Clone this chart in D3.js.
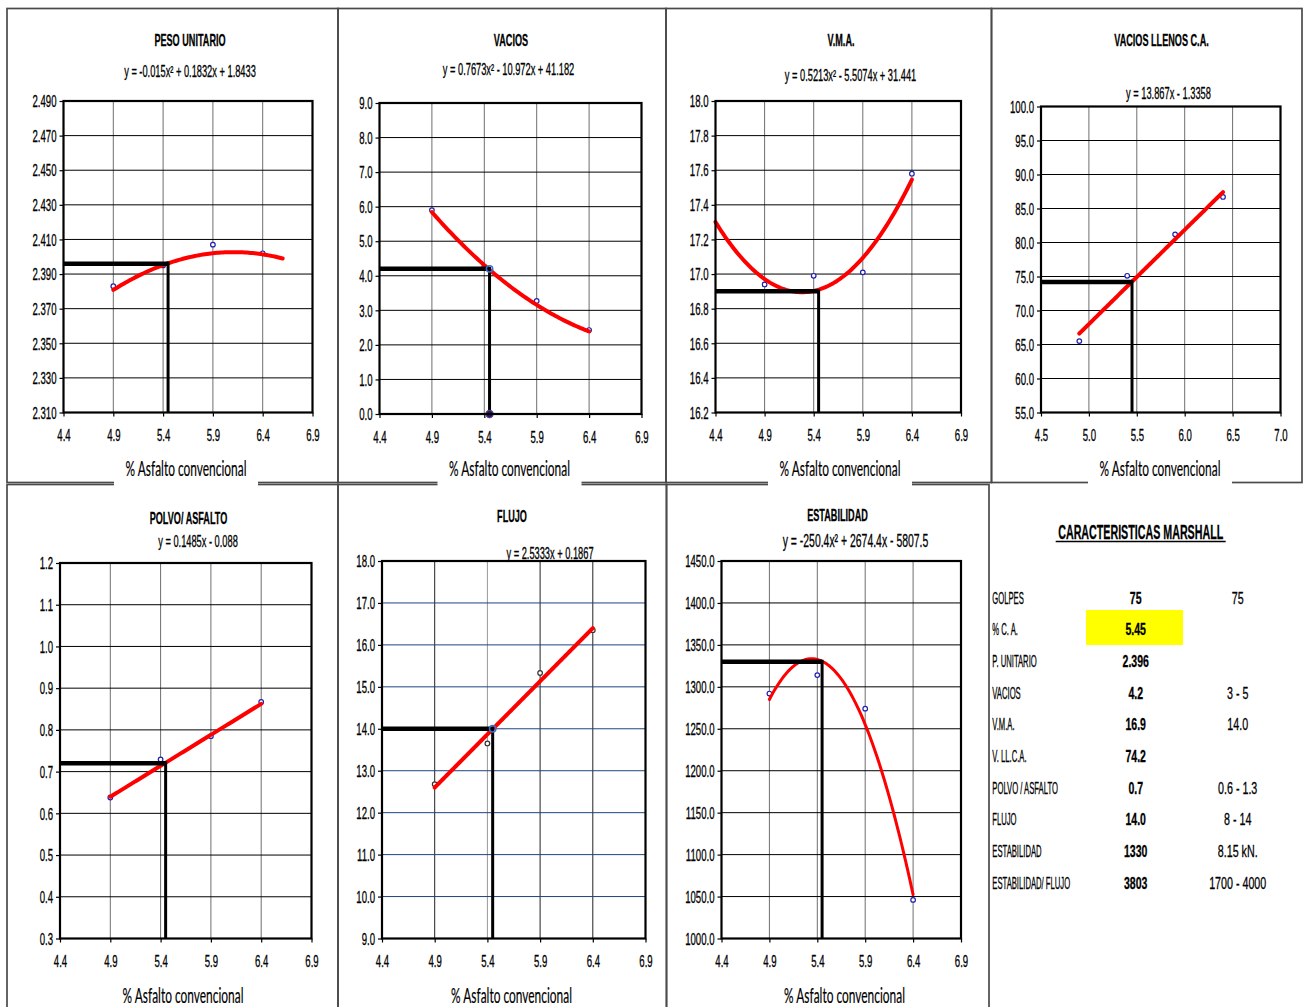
<!DOCTYPE html>
<html>
<head>
<meta charset="utf-8">
<script src="https://cdn.jsdelivr.net/npm/d3@7"></script>
<style>
  html, body { margin: 0; padding: 0; background: #fff; }
  svg { display: block; }
  svg text { stroke: #000; stroke-width: 0.3px; }
</style>
</head>
<body>
<svg id="chart" width="1306" height="1007"></svg>
<script>
// ---- Marshall test results: asphalt content vs. measured properties ----
const asphaltPct = [4.9, 5.4, 5.9, 6.4];

const pesoUnitario = [2.383, 2.395, 2.407, 2.402];
const vacios = [5.90, 4.26, 3.27, 2.43];
const vma = [16.94, 16.99, 17.01, 17.58];
const vaciosLlenos = [65.5, 75.1, 81.2, 86.7];
const polvoAsfalto = [0.638, 0.729, 0.785, 0.867];
const flujo = [12.68, 13.65, 15.33, 16.35];
const estabilidad = [1292, 1314, 1274, 1046];

// Trend-line coefficients (highest power first)
const fitPeso = [-0.015, 0.1832, 1.8433];
const fitVacios = [0.7673, -10.972, 41.182];
const fitVma = [0.5213, -5.5074, 31.441];
const fitLlenos = [13.867, -1.3358];
const fitPolvo = [0.1485, -0.088];
const fitFlujo = [2.5333, 0.1867];
const fitEstab = [-250.4, 2674.4, -5807.5];

const equations = [
  "y = -0.015x² + 0.1832x + 1.8433",
  "y = 0.7673x² - 10.972x + 41.182",
  "y = 0.5213x² - 5.5074x + 31.441",
  "y = 13.867x - 1.3358",
  "y = 0.1485x - 0.088",
  "y = 2.5333x + 0.1867",
  "y = -250.4x² + 2674.4x - 5807.5"
];
const titles = ["PESO UNITARIO", "VACIOS", "V.M.A.", "VACIOS LLENOS C.A.", "POLVO/ ASFALTO", "FLUJO", "ESTABILIDAD"];

// Optimum asphalt content and the properties read at it
const optimumAC = 5.45;
const designValues = [2.396, 4.2, 16.9, 74.2, 0.72, 14.0, 1330];

// Tick values
const xTicksA = [4.4, 4.9, 5.4, 5.9, 6.4, 6.9];
const xTicksB = [4.5, 5.0, 5.5, 6.0, 6.5, 7.0];
const yTicksPeso = [2.310, 2.330, 2.350, 2.370, 2.390, 2.410, 2.430, 2.450, 2.470, 2.490];
const yTicksVacios = [0, 1, 2, 3, 4, 5, 6, 7, 8, 9];
const yTicksVma = [16.2, 16.4, 16.6, 16.8, 17.0, 17.2, 17.4, 17.6, 17.8, 18.0];
const yTicksLlenos = [55, 60, 65, 70, 75, 80, 85, 90, 95, 100];
const yTicksPolvo = [0.3, 0.4, 0.5, 0.6, 0.7, 0.8, 0.9, 1.0, 1.1, 1.2];
const yTicksFlujo = [9, 10, 11, 12, 13, 14, 15, 16, 17, 18];
const yTicksEstab = [1000, 1050, 1100, 1150, 1200, 1250, 1300, 1350, 1400, 1450];

const xAxisTitle = "% Asfalto convencional";

// Summary table
const tableTitle = "CARACTERISTICAS MARSHALL";
const tableLabels = ["GOLPES", "% C. A.", "P. UNITARIO", "VACIOS", "V.M.A.", "V. LL.C.A.", "POLVO / ASFALTO", "FLUJO", "ESTABILIDAD", "ESTABILIDAD/ FLUJO"];
const tableValues = ["75", "5.45", "2.396", "4.2", "16.9", "74.2", "0.7", "14.0", "1330", "3803"];
const tableSpecs = ["75", "", "", "3 - 5", "14.0", "", "0.6 - 1.3", "8 - 14", "8.15 kN.", "1700 - 4000"];

// ---- layout ----
const panels = [
  { title: titles[0], eq: equations[0], ys: pesoUnitario, coef: fitPeso, design: designValues[0],
    box: { l: 63.5, t: 101, r: 312.5, b: 412.5 }, xTicks: xTicksA, yTicks: yTicksPeso, yFmt: ".3f",
    fitRange: [4.9, 6.6], titleXY: [190, 46], eqXY: [190, 76.5], eqSize: 16, axisTitleXY: [186, 476], row: 0 },
  { title: titles[1], eq: equations[1], ys: vacios, coef: fitVacios, design: designValues[1],
    box: { l: 379.5, t: 103, r: 641.5, b: 414 }, xTicks: xTicksA, yTicks: yTicksVacios, yFmt: ".1f",
    fitRange: [4.9, 6.4], titleXY: [511, 46], eqXY: [508.5, 75], eqSize: 16, axisTitleXY: [509.5, 476], row: 0,
    designMarks: true },
  { title: titles[2], eq: equations[2], ys: vma, coef: fitVma, design: designValues[2],
    box: { l: 715.5, t: 101, r: 961, b: 412.5 }, xTicks: xTicksA, yTicks: yTicksVma, yFmt: ".1f",
    fitRange: [4.4, 6.4], titleXY: [841, 46], eqXY: [850.5, 81], eqSize: 16, axisTitleXY: [840, 476], row: 0 },
  { title: titles[3], eq: equations[3], ys: vaciosLlenos, coef: fitLlenos, design: designValues[3],
    box: { l: 1041, t: 106.5, r: 1280.5, b: 412.5 }, xTicks: xTicksB, yTicks: yTicksLlenos, yFmt: ".1f",
    fitRange: [4.9, 6.4], titleXY: [1161.5, 46], eqXY: [1168.5, 99], eqSize: 16, axisTitleXY: [1160, 476], row: 0 },
  { title: titles[4], eq: equations[4], ys: polvoAsfalto, coef: fitPolvo, design: designValues[4],
    box: { l: 60, t: 563, r: 311.5, b: 938.5 }, xTicks: xTicksA, yTicks: yTicksPolvo, yFmt: ".1f",
    fitRange: [4.9, 6.4], titleXY: [188.5, 524], eqXY: [198, 547], eqSize: 16, axisTitleXY: [183, 1003], row: 1 },
  { title: titles[5], eq: equations[5], ys: flujo, coef: fitFlujo, design: designValues[5],
    box: { l: 382, t: 561, r: 645.5, b: 938.5 }, xTicks: xTicksA, yTicks: yTicksFlujo, yFmt: ".1f",
    fitRange: [4.9, 6.4], titleXY: [512, 522], eqXY: [550, 558.5], eqSize: 16, axisTitleXY: [511.5, 1003], row: 1,
    hGridColor: "#1f437f", markerColor: "#333", designMarks: true },
  { title: titles[6], eq: equations[6], ys: estabilidad, coef: fitEstab, design: designValues[6],
    box: { l: 721.5, t: 561, r: 961, b: 938.5 }, xTicks: xTicksA, yTicks: yTicksEstab, yFmt: ".1f",
    fitRange: [4.9, 6.4], titleXY: [837.5, 521], eqXY: [855.5, 547], eqSize: 18, axisTitleXY: [844.5, 1003], row: 1,
    curveWidth: 3 }
];

const SANS = "'Liberation Sans', Arial, sans-serif";
const svg = d3.select("#chart");

// Condensed text helper: horizontal squeeze applied around the anchor point
function label(parent, x, y, s, o = {}) {
  const g = parent.append("g").attr("transform", `translate(${x},${y}) scale(${o.sx || 0.6},1)`);
  return g.append("text")
    .attr("text-anchor", o.anchor || "middle")
    .attr("fill", o.fill || "#000")
    .style("font-family", o.family || SANS)
    .style("font-size", (o.size || 16) + "px")
    .style("font-weight", o.weight || "normal")
    .text(s);
}

// Text squeezed to a given overall width
function fitLabel(parent, x, y, s, width, o = {}) {
  const g = parent.append("g");
  const t = g.append("text")
    .attr("text-anchor", "middle")
    .attr("fill", "#000")
    .style("font-family", o.family || SANS)
    .style("font-size", (o.size || 16) + "px")
    .style("stroke-width", "0.2px")
    .text(s);
  const w = t.node().getComputedTextLength() || width;
  g.attr("transform", `translate(${x},${y}) scale(${width / w},1)`);
  return t;
}

function poly(coef, x) {
  return coef.reduce((acc, c) => acc * x + c, 0);
}

// ---- panel frames ----
const frames = svg.append("g").attr("fill", "none").attr("stroke", "#4a4a4a").attr("stroke-width", 1.7);
[[7, 338], [338, 666], [666, 991.5], [991.5, 1302]].forEach(([a, b]) =>
  frames.append("rect").attr("x", a).attr("y", 8.5).attr("width", b - a).attr("height", 474));
[[7, 338], [338, 666.5], [666.5, 989]].forEach(([a, b]) =>
  frames.append("rect").attr("x", a).attr("y", 484.5).attr("width", b - a).attr("height", 540));

// ---- charts ----
panels.forEach(p => {
  const B = p.box;
  const g = svg.append("g");
  const x = d3.scaleLinear().domain([p.xTicks[0], p.xTicks[p.xTicks.length - 1]]).range([B.l, B.r]);
  const y = d3.scaleLinear().domain([p.yTicks[0], p.yTicks[p.yTicks.length - 1]]).range([B.b, B.t]);

  // white plot background
  g.append("rect").attr("x", B.l).attr("y", B.t).attr("width", B.r - B.l).attr("height", B.b - B.t).attr("fill", "#fff");

  // gridlines
  g.append("g").selectAll("line").data(p.xTicks).join("line")
    .attr("x1", d => x(d)).attr("x2", d => x(d)).attr("y1", B.t).attr("y2", B.b)
    .attr("stroke", (d, i) => (p.hGridColor && i === 2) ? "#999" : (p.hGridColor ? "#222" : "#6e6e6e"))
    .attr("stroke-width", 1);
  g.append("g").selectAll("line").data(p.yTicks).join("line")
    .attr("x1", B.l).attr("x2", B.r).attr("y1", d => y(d)).attr("y2", d => y(d))
    .attr("stroke", p.hGridColor || "#000").attr("stroke-width", 1);

  // axes
  const xa = g.append("g").attr("transform", `translate(0,${B.b})`)
    .call(d3.axisBottom(x).tickValues(p.xTicks).tickFormat(d3.format(".1f")).tickSize(4).tickPadding(0));
  const ya = g.append("g").attr("transform", `translate(${B.l},0)`)
    .call(d3.axisLeft(y).tickValues(p.yTicks).tickFormat(d3.format(p.yFmt)).tickSize(4).tickPadding(0));
  [xa, ya].forEach(a => {
    a.select(".domain").remove();
    a.attr("font-family", SANS).attr("font-size", 16);
    a.selectAll(".tick line").attr("stroke", "#000").attr("stroke-width", 1.2);
    a.selectAll("text").attr("fill", "#000").attr("transform", "scale(0.6,1)");
  });
  xa.selectAll("text").attr("y", 29).attr("dy", 0);
  ya.selectAll("text").attr("x", -7 / 0.6).attr("dy", "0.36em");

  // data points
  const markColor = p.markerColor || "#1f1fb0";
  g.append("g").selectAll("circle").data(asphaltPct.map((a, i) => [a, p.ys[i]])).join("circle")
    .attr("cx", d => x(d[0])).attr("cy", d => y(d[1])).attr("r", 2.3)
    .attr("fill", "#fff").attr("stroke", markColor).attr("stroke-width", 1.2);

  // trend line from the fitted equation
  const xs = d3.range(p.fitRange[0], p.fitRange[1] + 1e-9, 0.02);
  g.append("path")
    .datum(xs.map(v => [v, poly(p.coef, v)]))
    .attr("fill", "none").attr("stroke", "#ff0000").attr("stroke-width", p.curveWidth || 4)
    .attr("stroke-linecap", "round").attr("stroke-linejoin", "round")
    .attr("d", d3.line().x(d => x(d[0])).y(d => y(d[1])));

  // reading at the optimum asphalt content
  g.append("line").attr("x1", B.l).attr("x2", x(optimumAC)).attr("y1", y(p.design)).attr("y2", y(p.design))
    .attr("stroke", "#000").attr("stroke-width", 4.5);
  g.append("line").attr("x1", x(optimumAC)).attr("x2", x(optimumAC)).attr("y1", y(p.design) - 2).attr("y2", B.b)
    .attr("stroke", "#000").attr("stroke-width", 3);
  if (p.designMarks) {
    g.append("circle").attr("cx", x(optimumAC)).attr("cy", y(p.design)).attr("r", 3.2)
      .attr("fill", "none").attr("stroke", "#3a6fd0").attr("stroke-width", 1.5);
    if (p.yTicks[0] === 0) {
      g.append("circle").attr("cx", x(optimumAC)).attr("cy", y(0)).attr("r", 3.6)
        .attr("fill", "#2b1a4a").attr("stroke", "#5a3a9a").attr("stroke-width", 1.2);
    }
  }

  // plot border
  g.append("rect").attr("x", B.l).attr("y", B.t).attr("width", B.r - B.l).attr("height", B.b - B.t)
    .attr("fill", "none").attr("stroke", "#000").attr("stroke-width", 2.2);

  // titles
  label(g, p.titleXY[0], p.titleXY[1], p.title, { size: 16, weight: "bold", sx: 0.57 });
  label(g, p.eqXY[0], p.eqXY[1], p.eq, { size: p.eqSize, sx: 0.58 });

  // x axis title on a white box
  const [tx, ty] = p.axisTitleXY;
  if (p.row === 0) {
    g.append("rect").attr("x", tx - 72).attr("y", ty - 20).attr("width", 144).attr("height", 30).attr("fill", "#fff");
  }
  fitLabel(g, tx, ty, xAxisTitle, 121, { family: "Lato, 'Open Sans', sans-serif", size: 21 });
});

// ---- summary table ----
const tbl = svg.append("g");
label(tbl, 1140.7, 538.5, tableTitle, { size: 20, weight: "bold", sx: 0.535 });
tbl.append("line").attr("x1", 1055.7).attr("x2", 1225.7).attr("y1", 541.5).attr("y2", 541.5)
  .attr("stroke", "#000").attr("stroke-width", 1.6);

const rowY = d3.scaleLinear().domain([0, tableLabels.length - 1]).range([603.5, 888.5]);
tbl.append("rect").attr("x", 1086).attr("y", 610).attr("width", 97).attr("height", 35).attr("fill", "#ffff00");

tableLabels.forEach((s, i) => label(tbl, 992.3, rowY(i), s, { size: 16, anchor: "start", sx: 0.48 }));
tableValues.forEach((s, i) => label(tbl, 1135.7, rowY(i), s, { size: 17, weight: "bold", sx: 0.62 }));
tableSpecs.forEach((s, i) => { if (s) label(tbl, 1237.7, rowY(i), s, { size: 17, sx: 0.63 }); });
</script>
</body>
</html>
